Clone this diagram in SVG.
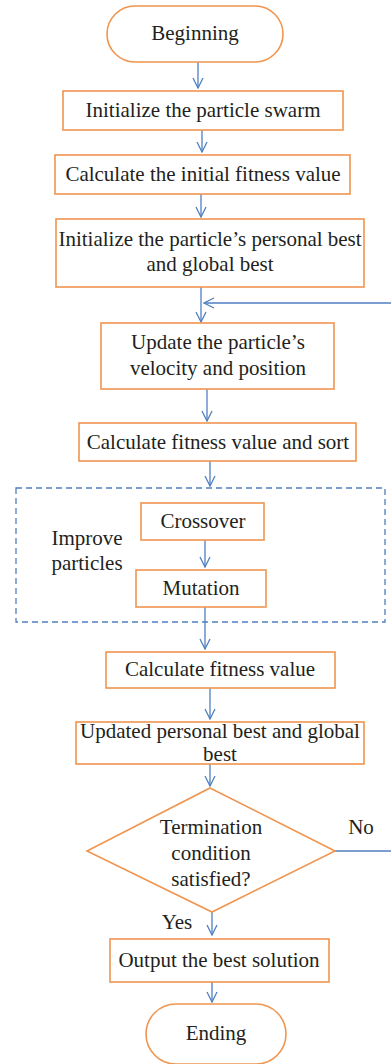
<svg xmlns="http://www.w3.org/2000/svg" width="391" height="1064" viewBox="0 0 391 1064">
<defs>
<marker id="ah" viewBox="0 0 12 12" refX="11" refY="6" markerWidth="12" markerHeight="12" markerUnits="userSpaceOnUse" orient="auto">
<path d="M1,1 L11,6 L1,11" fill="none" stroke="#4f7fc0" stroke-width="1.3"/>
</marker>
<style>
.n{fill:#fff;stroke:#f0954f;stroke-width:1.6}
.t{font-family:"Liberation Serif","Times New Roman",serif;font-size:21px;fill:#231f20;text-anchor:middle}
.c{fill:none;stroke:#4f7fc0;stroke-width:1.3;marker-end:url(#ah)}
.d{fill:none;stroke:#4f7fc0;stroke-width:1.3;stroke-dasharray:6,4}
</style>
</defs>
<g id="connectors">
<path class="c" d="M198,62 V88"/>
<path class="c" d="M202,130 V152"/>
<path class="c" d="M201,194 V217"/>
<path class="c" d="M201,287 V322"/>
<path class="c" d="M335,851 H395 V303 H204"/>
<path class="c" d="M207,389 V421"/>
<path class="c" d="M210,461 V486"/>
<path class="c" d="M205,540 V567"/>
<path class="c" d="M205,607 V649"/>
<path class="c" d="M210,688 V719"/>
<path class="c" d="M210,764 V786"/>
<path class="c" d="M212,912 V935"/>
<path class="c" d="M212,982 V1002"/>
</g>
<g id="group-improve">
<rect class="d" x="16" y="488" width="369" height="134"/>
<text class="t" x="87" y="545">Improve</text>
<text class="t" x="87" y="570">particles</text>
</g>
<g id="n-begin">
<rect class="n" x="107" y="6" width="176" height="56" rx="28"/>
<text class="t" x="195" y="40">Beginning</text>
</g>
<g id="n-init-swarm">
<rect class="n" x="63" y="91" width="280" height="39"/>
<text class="t" x="203" y="117">Initialize the particle swarm</text>
</g>
<g id="n-init-fitness">
<rect class="n" x="55" y="155" width="295" height="39"/>
<text class="t" x="203" y="181">Calculate the initial fitness value</text>
</g>
<g id="n-init-best">
<rect class="n" x="56" y="219" width="308" height="68"/>
<text class="t" x="210" y="246">Initialize the particle’s personal best</text>
<text class="t" x="210" y="271">and global best</text>
</g>
<g id="n-update">
<rect class="n" x="101" y="323" width="233" height="66"/>
<text class="t" x="218" y="349">Update the particle’s</text>
<text class="t" x="218" y="375">velocity and position</text>
</g>
<g id="n-sort">
<rect class="n" x="79" y="423" width="277" height="38"/>
<text class="t" x="218" y="449">Calculate fitness value and sort</text>
</g>
<g id="n-crossover">
<rect class="n" x="141" y="503" width="123" height="37"/>
<text class="t" x="203" y="528">Crossover</text>
</g>
<g id="n-mutation">
<rect class="n" x="136" y="570" width="130" height="37"/>
<text class="t" x="201" y="595">Mutation</text>
</g>
<g id="n-fitness">
<rect class="n" x="106" y="652" width="229" height="36"/>
<text class="t" x="220" y="676">Calculate fitness value</text>
</g>
<g id="n-updated-best">
<rect class="n" x="76" y="722" width="288" height="42"/>
<text class="t" x="220" y="738" font-size="20">Updated personal best and global</text>
<text class="t" x="220" y="761" font-size="20">best</text>
</g>
<g id="n-decision">
<polygon class="n" points="210,788 335,851 212,912 87,851"/>
<text class="t" x="211" y="834">Termination</text>
<text class="t" x="211" y="860">condition</text>
<text class="t" x="211" y="886">satisfied?</text>
</g>
<text class="t" x="361" y="834">No</text>
<text class="t" x="177" y="929">Yes</text>
<g id="n-output">
<rect class="n" x="110" y="939" width="219" height="43"/>
<text class="t" x="219" y="967">Output the best solution</text>
</g>
<g id="n-end">
<rect class="n" x="146" y="1004" width="140" height="60" rx="30"/>
<text class="t" x="216" y="1040">Ending</text>
</g>
</svg>
